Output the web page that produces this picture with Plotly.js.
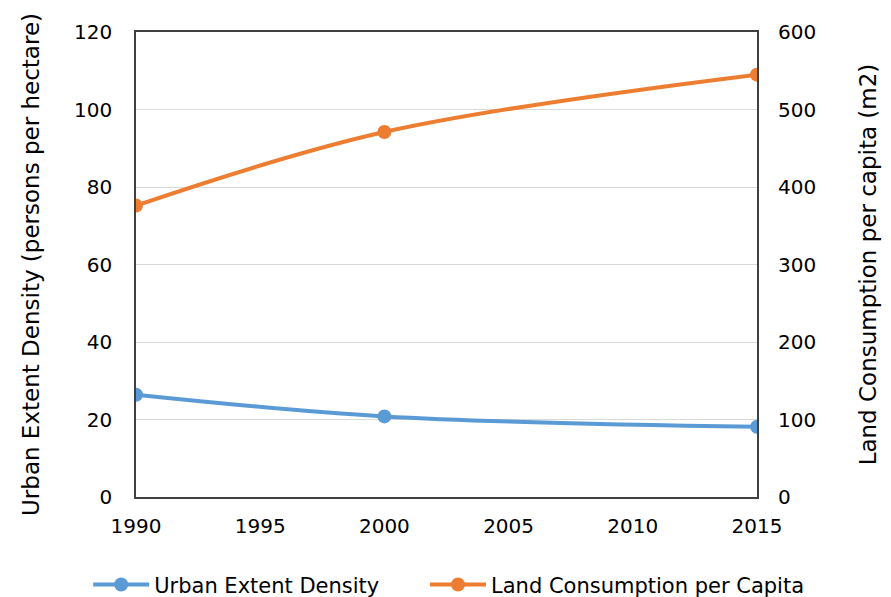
<!DOCTYPE html>
<html><head><meta charset="utf-8">
<script src="https://cdn.plot.ly/plotly-3.0.1.min.js"></script>
<style>html,body{margin:0;padding:0;background:#fff}#c{width:891px;height:597px}</style>
</head><body><div id="c"></div>
<script>
const years = [1990, 2000, 2015];
const densityName = 'Urban Extent Density';
const density = [26.4, 20.8, 18.1];
const consumptionName = 'Land Consumption per Capita';
const consumption = [376, 471, 545];

const font = {family: 'DejaVu Sans, Liberation Sans, Arial, sans-serif', color: '#000', size: 20};

const traces = [
  {x: years, y: density, name: densityName, type: 'scatter', mode: 'lines+markers', legend: 'legend',
   line: {color: '#5B9BD5', width: 4, shape: 'spline'}, marker: {color: '#5B9BD5', size: 14}},
  {x: years, y: consumption, name: consumptionName, type: 'scatter', mode: 'lines+markers', yaxis: 'y2', legend: 'legend2',
   line: {color: '#ED7D31', width: 4, shape: 'spline'}, marker: {color: '#ED7D31', size: 14}}
];

const legendBase = {orientation: 'h', xanchor: 'left', y: -0.189, yanchor: 'middle', font: {size: 21}, itemwidth: 56, bgcolor: 'rgba(0,0,0,0)'};

const layout = {
  width: 891, height: 597,
  margin: {l: 136, r: 134, t: 32, b: 100, autoexpand: false},
  paper_bgcolor: '#fff', plot_bgcolor: '#fff',
  font: font,
  showlegend: true,
  legend: Object.assign({}, legendBase, {x: -0.077}),
  legend2: Object.assign({}, legendBase, {x: 0.4654}),
  xaxis: {range: [1990, 2015], dtick: 5, tick0: 1990, showgrid: false, zeroline: false,
    showline: true, linecolor: '#404040', linewidth: 1.5, mirror: true, ticks: '', tickfont: {size: 20}, ticklabelstandoff: 10, automargin: false},
  yaxis: {range: [0, 120], dtick: 20, showgrid: true, gridcolor: '#d9d9d9', zeroline: false, automargin: false,
    showline: true, linecolor: '#404040', linewidth: 1.5, mirror: true, ticks: '', tickfont: {size: 20}, ticklabelstandoff: 18,
    title: {text: 'Urban Extent Density (persons per hectare)', font: {size: 23}, standoff: 28}},
  yaxis2: {range: [0, 600], dtick: 100, overlaying: 'y', side: 'right', showgrid: false, zeroline: false, automargin: false,
    ticks: '', tickfont: {size: 20}, ticklabelstandoff: 20,
    title: {text: 'Land Consumption per capita (m2)', font: {size: 23}, standoff: 44}}
};
Plotly.newPlot('c', traces, layout, {displayModeBar: false});
</script></body></html>
